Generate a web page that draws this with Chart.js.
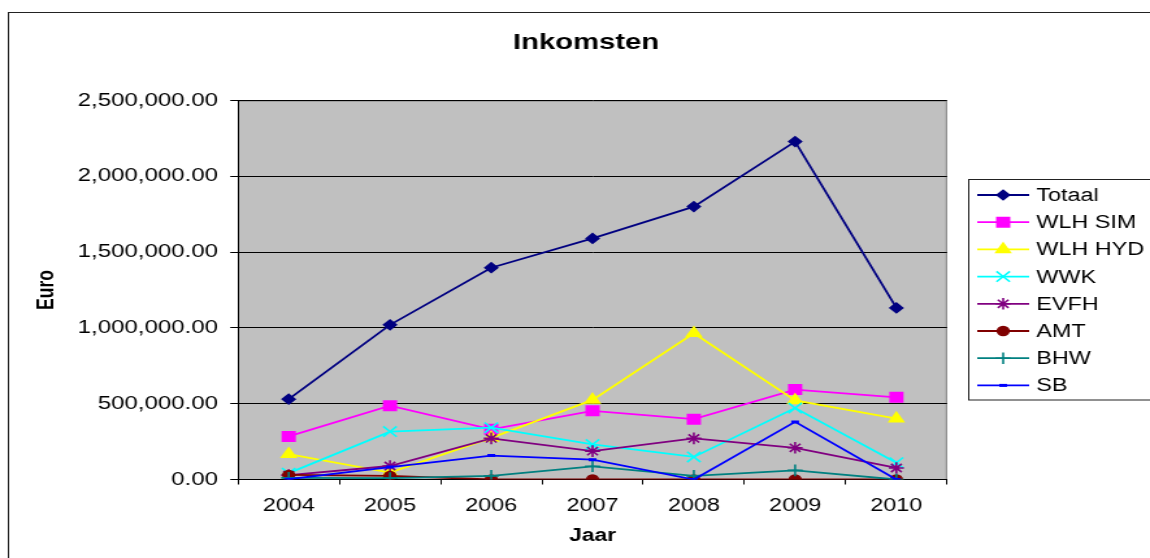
<!DOCTYPE html>
<html>
<head>
<meta charset="utf-8">
<script src="https://cdn.jsdelivr.net/npm/chart.js@4/dist/chart.umd.min.js"></script>
<style>
  html, body { margin: 0; padding: 0; background: #fff; overflow: hidden; }
  #wrap { width: 885px; height: 558px; transform: scaleX(1.29944); transform-origin: 0 0; }
</style>
</head>
<body>
<div id="wrap"><canvas id="c" width="885" height="558"></canvas></div>
<script>
// ---- data ----
const categories = ['2004', '2005', '2006', '2007', '2008', '2009', '2010'];
const seriesNames = ['Totaal', 'WLH SIM', 'WLH HYD', 'WWK', 'EVFH', 'AMT', 'BHW', 'SB'];
const totaal  = [530000, 1020000, 1397000, 1590000, 1800000, 2229000, 1132000];
const wlhSim  = [284000, 487000, 331000, 453000, 398000, 593000, 542000];
const wlhHyd  = [167000, 45000, 275000, 525000, 965000, 522000, 402000];
const wwk     = [42000, 316000, 342000, 231000, 149000, 471000, 111000];
const evfh    = [29000, 89000, 271000, 187000, 271000, 209000, 76000];
const amt     = [31000, 24000, 0, 0, 0, 0, 0];
const bhw     = [11000, 9000, 24000, 87000, 24000, 60000, 0];
const sb      = [2000, 82000, 158000, 131000, 0, 380000, 0];
const yTicks  = [0, 500000, 1000000, 1500000, 2000000, 2500000];

const FONT = '"Liberation Sans", Arial, Helvetica, sans-serif';

const styles = [
  { color: '#000080', pointStyle: 'rectRot',  radius: 4.8, bw: 1.5 },
  { color: '#FF00FF', pointStyle: 'rect',     radius: 6.7, bw: 1.5 },
  { color: '#FFFF00', pointStyle: 'triangle', radius: 6.3, bw: 1.5 },
  { color: '#00FFFF', pointStyle: 'crossRot', radius: 7.3, bw: 1.6 },
  { color: '#800080', pointStyle: 'star',     radius: 5.8, bw: 1.6 },
  { color: '#800000', pointStyle: 'circle',   radius: 4.4, bw: 1.5 },
  { color: '#008080', pointStyle: 'cross',    radius: 5.8, bw: 1.6 },
  { color: '#0000FF', pointStyle: 'line',     radius: 3,   bw: 3 }
];
const allData = [totaal, wlhSim, wlhHyd, wwk, evfh, amt, bhw, sb];

function fmt(v) {
  const s = Math.round(v).toString().replace(/\B(?=(\d{3})+(?!\d))/g, ',');
  return s + '.00';
}

const datasets = allData.map((d, i) => ({
  label: seriesNames[i],
  data: d,
  borderColor: styles[i].color,
  backgroundColor: styles[i].color,
  pointBackgroundColor: styles[i].color,
  pointBorderColor: styles[i].color,
  pointStyle: styles[i].pointStyle,
  pointRadius: styles[i].radius,
  pointBorderWidth: styles[i].bw,
  borderWidth: 1.8,
  tension: 0,
  fill: false,
  order: allData.length - i
}));

const decor = {
  id: 'decor',
  beforeDraw(chart) {
    const { ctx, chartArea: a } = chart;
    ctx.save();
    ctx.fillStyle = '#C0C0C0';
    ctx.fillRect(a.left, a.top, a.right - a.left, a.bottom - a.top);
    ctx.strokeStyle = '#808080';
    ctx.lineWidth = 1;
    ctx.beginPath();
    ctx.moveTo(a.left, a.top + 0.5);
    ctx.lineTo(a.right - 0.5, a.top + 0.5);
    ctx.lineTo(a.right - 0.5, a.bottom);
    ctx.stroke();
    ctx.restore();
  },
  afterDraw(chart) {
    const { ctx } = chart;
    ctx.save();
    // outer border
    ctx.strokeStyle = '#222';
    ctx.lineWidth = 1;
    ctx.strokeRect(6.5, 12.5, 1000, 1000);
    // title
    ctx.fillStyle = '#000';
    ctx.font = 'bold 22.5px ' + FONT;
    ctx.textAlign = 'center';
    ctx.textBaseline = 'middle';
    ctx.fillText('Inkomsten', 451, 43);
    // legend
    ctx.strokeStyle = '#222';
    ctx.strokeRect(745.5, 179.5, 400, 220.5);
    const y0 = 195, step = 27.2;
    datasets.forEach((ds, i) => {
      const y = y0 + i * step;
      ctx.strokeStyle = ds.borderColor;
      ctx.lineWidth = 1.8;
      ctx.beginPath();
      ctx.moveTo(752, y);
      ctx.lineTo(792, y);
      ctx.stroke();
      ctx.fillStyle = ds.backgroundColor;
      ctx.strokeStyle = ds.borderColor;
      ctx.lineWidth = ds.pointBorderWidth;
      Chart.helpers.drawPoint(ctx, { pointStyle: ds.pointStyle, radius: ds.pointRadius, borderWidth: ds.pointBorderWidth, rotation: 0 }, 772, y);
      ctx.fillStyle = '#000';
      ctx.font = '18px ' + FONT;
      ctx.textAlign = 'left';
      ctx.textBaseline = 'middle';
      ctx.fillText(ds.label, 797.5, y + 1);
    });
    ctx.restore();
  }
};

new Chart(document.getElementById('c'), {
  type: 'line',
  data: { labels: categories, datasets },
  options: {
    responsive: false,
    animation: false,
    devicePixelRatio: 1,
    layout: { padding: { left: 0, right: 156.2, top: 100.5, bottom: 0 } },
    plugins: { legend: { display: false }, title: { display: false }, tooltip: { enabled: false } },
    scales: {
      x: {
        type: 'category',
        offset: true,
        afterFit(s) { s.height = 78.5; },
        grid: { display: true, offset: true, drawOnChartArea: false, drawTicks: true, tickLength: 5, color: '#000', lineWidth: 1 },
        border: { display: true, color: '#000', width: 1 },
        ticks: { color: '#000', font: { family: FONT, size: 18 }, padding: 10.5, maxRotation: 0, autoSkip: false },
        title: { display: true, text: 'Jaar', color: '#000', font: { family: FONT, size: 17.5, weight: 'bold' }, padding: { top: 11, bottom: 11 } }
      },
      y: {
        min: 0, max: 2500000,
        afterFit(s) { s.width = 183.2; },
        afterBuildTicks(s) { s.ticks = yTicks.map(v => ({ value: v })); },
        grid: { display: true, drawTicks: true, tickLength: 6, color: '#000', lineWidth: 1 },
        border: { display: true, color: '#000', width: 1 },
        ticks: { color: '#000', font: { family: FONT, size: 18.5 }, padding: 9.4, callback: v => fmt(v) },
        title: { display: true, text: 'Euro', color: '#000', font: { family: FONT, size: 17.5, weight: 'bold' }, padding: { top: 25.5, bottom: 25.5 } }
      }
    }
  },
  plugins: [decor]
});
</script>
</body>
</html>
